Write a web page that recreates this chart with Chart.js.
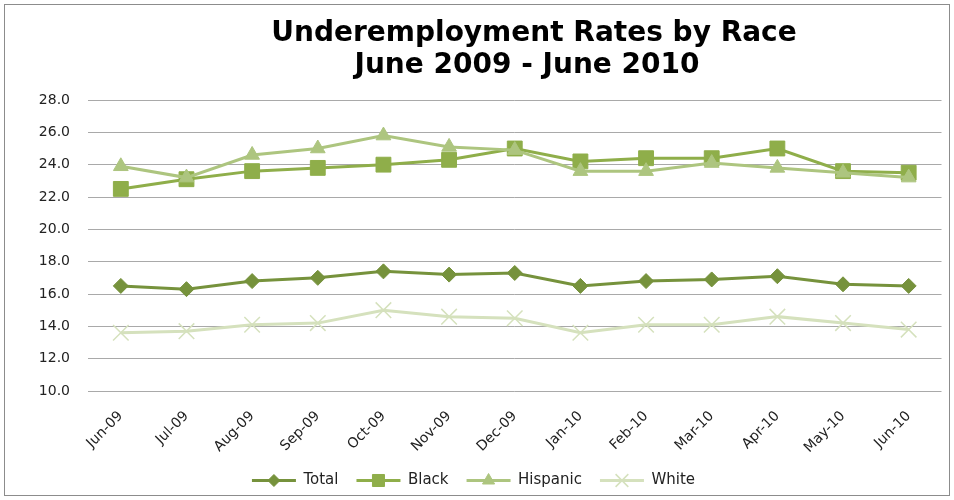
<!DOCTYPE html>
<html>
<head>
<meta charset="utf-8">
<script src="https://cdn.jsdelivr.net/npm/chart.js@4"></script>
<style>
    body { margin: 0; background: #fff; }
    #wrap { width: 954px; height: 500px; }
</style>
</head>
<body>
<div id="wrap"><canvas id="raceChart" width="954" height="500"></canvas></div>
<script>
const months = ['Jun-09', 'Jul-09', 'Aug-09', 'Sep-09', 'Oct-09', 'Nov-09', 'Dec-09',
    'Jan-10', 'Feb-10', 'Mar-10', 'Apr-10', 'May-10', 'Jun-10'];
const totalRates = [16.5, 16.3, 16.8, 17.0, 17.4, 17.2, 17.3, 16.5, 16.8, 16.9, 17.1, 16.6, 16.5];
const blackRates = [22.5, 23.1, 23.6, 23.8, 24.0, 24.3, 25.0, 24.2, 24.4, 24.4, 25.0, 23.6, 23.5];
const hispanicRates = [23.9, 23.2, 24.6, 25.0, 25.8, 25.1, 24.9, 23.6, 23.6, 24.1, 23.8, 23.5, 23.2];
const whiteRates = [13.6, 13.7, 14.1, 14.2, 15.0, 14.6, 14.5, 13.6, 14.1, 14.1, 14.6, 14.2, 13.8];
const titleLines = ['Underemployment Rates by Race', 'June 2009 - June 2010'];

const textColor = '#222';
const baseFont = 'DejaVu Sans';

// frame + two-line title, drawn by hand so it can sit off-centre like the original
const framePlugin = {
    id: 'frame',
    beforeDraw(chart) {
        const ctx = chart.ctx;
        ctx.save();
        ctx.fillStyle = '#fff';
        ctx.fillRect(0, 0, chart.width, chart.height);
        ctx.strokeStyle = '#8c8c8c';
        ctx.lineWidth = 1;
        ctx.strokeRect(4.5, 4.5, chart.width - 9, chart.height - 9);
        ctx.restore();
    },
    afterDraw(chart) {
        const ctx = chart.ctx;
        ctx.save();
        ctx.fillStyle = '#000';
        ctx.font = 'bold 28px "' + baseFont + '"';
        ctx.textAlign = 'center';
        ctx.textBaseline = 'middle';
        ctx.fillText(titleLines[0], 534, 34);
        ctx.fillText(titleLines[1], 527, 66);
        ctx.restore();

        // markers on the legend lines
        const legend = chart.legend;
        if (!legend || !legend.legendHitBoxes) return;
        const boxW = legend.options.labels.boxWidth;
        const fs = legend.options.labels.font.size;
        legend.legendItems.forEach((item, i) => {
            const hb = legend.legendHitBoxes[i];
            const ds = chart.data.datasets[item.datasetIndex];
            ctx.save();
            ctx.fillStyle = ds.pointBackgroundColor;
            ctx.strokeStyle = ds.pointBorderColor;
            ctx.lineWidth = ds.pointBorderWidth;
            Chart.helpers.drawPoint(ctx, {
                pointStyle: ds.pointStyle,
                radius: ds.legendRadius,
                rotation: 0,
                borderWidth: ds.pointBorderWidth
            }, hb.left + boxW / 2, hb.top + fs / 2);
            ctx.restore();
        });
    }
};

function series(label, data, color, style, radius, legendRadius, order, borderW) {
    return {
        label: label,
        data: data,
        borderColor: color,
        backgroundColor: color,
        borderWidth: 3,
        pointStyle: style,
        pointRadius: radius,
        pointHoverRadius: radius,
        pointBackgroundColor: color,
        pointBorderColor: color,
        pointBorderWidth: borderW,
        legendRadius: legendRadius,
        tension: 0,
        order: order
    };
}

const ctx = document.getElementById('raceChart').getContext('2d');
new Chart(ctx, {
    type: 'line',
    data: {
        labels: months,
        datasets: [
            series('Total', totalRates, '#76923c', 'rectRot', 7.5, 6, 4, 1),
            series('Black', blackRates, '#8fae4a', 'rect', 10.5, 8.5, 3, 1),
            series('Hispanic', hispanicRates, '#adc57f', 'triangle', 8.5, 7, 2, 1),
            series('White', whiteRates, '#d5e1bd', 'crossRot', 11, 9, 1, 1.5)
        ]
    },
    options: {
        responsive: false,
        animation: false,
        layout: {
            padding: { top: 100, left: 4, right: 11, bottom: 2 }
        },
        plugins: {
            title: { display: false },
            tooltip: { enabled: false },
            legend: {
                position: 'bottom',
                labels: {
                    color: textColor,
                    font: { family: baseFont, size: 15 },
                    boxWidth: 44,
                    boxHeight: 3,
                    padding: 18,
                    generateLabels(chart) {
                        const items = Chart.defaults.plugins.legend.labels.generateLabels(chart);
                        items.forEach(it => {
                            it.lineWidth = 0;
                            it.fillStyle = chart.data.datasets[it.datasetIndex].borderColor;
                        });
                        items.sort((a, b) => a.datasetIndex - b.datasetIndex);
                        return items;
                    }
                }
            }
        },
        scales: {
            x: {
                offset: true,
                grid: { display: false },
                border: { display: false },
                ticks: {
                    color: textColor,
                    font: { family: baseFont, size: 14 },
                    minRotation: 45,
                    maxRotation: 45,
                    autoSkip: false,
                    padding: 9
                },
                afterFit(scale) { scale.height = 64; }
            },
            y: {
                min: 10,
                max: 28,
                grid: { color: '#a9a9a9', lineWidth: 1, drawTicks: false },
                border: { display: false },
                ticks: {
                    stepSize: 2,
                    color: textColor,
                    font: { family: baseFont, size: 14 },
                    padding: 18,
                    callback: v => v.toFixed(1)
                },
                afterFit(scale) { scale.width = 84; }
            }
        }
    },
    plugins: [framePlugin]
});
</script>
</body>
</html>
